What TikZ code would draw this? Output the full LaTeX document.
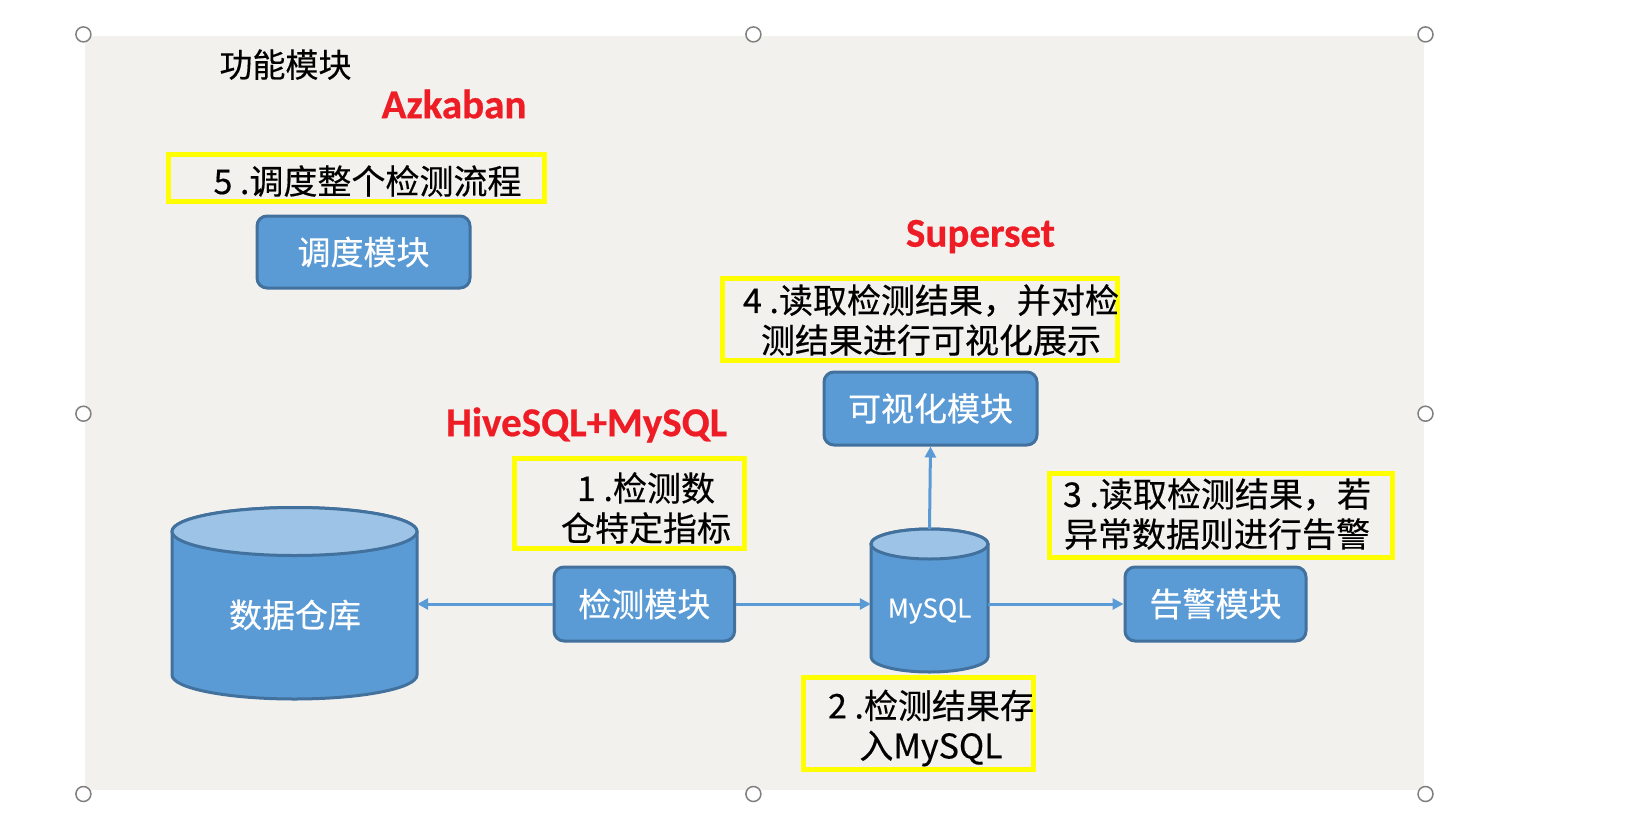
\documentclass[tikz,border=0pt]{standalone}
\usepackage{fontspec}
\newfontfamily\cjk[FakeBold=0.35]{Noto Sans CJK SC}
\newfontfamily\carl[FakeBold=0.6]{Carlito}
\usetikzlibrary{arrows.meta}
\definecolor{bfill}{HTML}{5B9BD5}
\definecolor{bline}{HTML}{41719C}
\definecolor{btop}{HTML}{9DC3E6}
\definecolor{ylw}{HTML}{FFFF00}
\definecolor{redt}{HTML}{EE1C25}
\definecolor{paper}{HTML}{F3F1EE}
\definecolor{hgray}{HTML}{808080}
\begin{document}
\begin{tikzpicture}[x=1pt,y=1pt,
  module/.style={draw=bline, line width=3pt, fill=bfill, rounded corners=10pt, text=white, inner sep=0pt, font=\cjk\fontsize{33}{38}\selectfont},
  note/.style={draw=ylw, line width=5pt, inner sep=0pt},
  notetext/.style={align=center, inner sep=0pt, text=black, font=\cjk\fontsize{34}{40}\selectfont},
  tech/.style={text=redt, inner sep=0pt, font=\carl\bfseries\fontsize{41}{44}\selectfont},
  cyl/.style={draw=bline, line width=3pt},
  hold/.style={inner sep=0pt, draw=none},
  conn/.style={draw=bfill, line width=3pt, -{Triangle[length=11pt,width=11pt]}},
  handle/.style={draw=hgray, line width=1.5pt, fill=white}]
\useasboundingbox (0,0) rectangle (1634,-827);
\fill[paper] (85,-36) rectangle (1424,-790);
% selection handles
\foreach \hx/\hy in {83.4/34.4, 753.4/34.4, 1425.5/34.4, 83.4/413.7, 1425.5/413.7, 83.4/794, 753.4/794, 1425.5/794}
  \draw[handle] (\hx,-\hy) circle (7.5);
% title
\node[inner sep=0pt, font=\cjk\fontsize{33}{38}\selectfont] (title) at (285.5,-64.6) {功能模块};
% tech labels
\node[tech] (az) at (454,-104) {Azkaban};
\node[tech] (ss) at (980.5,-236.5) {Superset};
\node[tech] (hv) at (586.6,-425) {HiveSQL+MySQL};
% yellow notes
\node[note, minimum width=376pt, minimum height=47pt] (n5) at (356.3,-178) {};
\node[notetext] (t5) at (367.5,-181) {5 .调度整个检测流程};
\node[note, minimum width=395pt, minimum height=81.6pt] (n4) at (920,-319.3) {};
\node[notetext] (t4) at (931,-320) {4 .读取检测结果，并对检\\测结果进行可视化展示};
\node[note, minimum width=230.4pt, minimum height=90pt] (n1) at (629.3,-503.5) {};
\node[notetext] (t1) at (646,-508) {1 .检测数\\仓特定指标};
\node[note, minimum width=343pt, minimum height=83.5pt] (n3) at (1221,-515.25) {};
\node[notetext] (t3) at (1217,-514) {3 .读取检测结果，若\\异常数据则进行告警};
\node[note, minimum width=230pt, minimum height=92pt] (n2) at (918.5,-723.5) {};
\node[notetext] (t2) at (931,-728) {2 .检测结果存\\入MySQL};
% modules
\node[module, minimum width=213pt, minimum height=72pt] (dd) at (363.5,-252) {调度模块};
\node[module, minimum width=213pt, minimum height=73pt] (ks) at (930.5,-408.5) {可视化模块};
\node[module, minimum width=180.6pt, minimum height=74pt] (jc) at (644.3,-604) {检测模块};
\node[module, minimum width=181pt, minimum height=74pt] (gj) at (1215.5,-604) {告警模块};
% data warehouse cylinder
\draw[cyl, fill=bfill] (172,-531.5) -- (172,-675) arc[start angle=180, end angle=360, x radius=122.5, y radius=24] -- (417,-531.5) arc[start angle=0, end angle=180, x radius=122.5, y radius=24] -- cycle;
\draw[cyl, fill=btop] (294.5,-531.5) ellipse [x radius=122.5, y radius=24];
\node[hold, minimum width=245pt, minimum height=191.5pt] (dw) at (294.5,-604) {};
\node[inner sep=0pt, text=white, font=\cjk\fontsize{33}{38}\selectfont] (dwt) at (295,-615) {数据仓库};
% MySQL cylinder
\draw[cyl, fill=bfill] (871,-544) -- (871,-657) arc[start angle=180, end angle=360, x radius=58.5, y radius=15] -- (988,-544) arc[start angle=0, end angle=180, x radius=58.5, y radius=15] -- cycle;
\draw[cyl, fill=btop] (929.5,-544) ellipse [x radius=58.5, y radius=15];
\node[hold, minimum width=117pt, minimum height=143pt] (my) at (929.5,-600.5) {};
\node[inner sep=0pt, text=white, font=\cjk\fontsize{26}{30}\selectfont] (myt) at (929.5,-611) {MySQL};
% connectors
\draw[conn] (jc.west) -- (jc.west -| dw.east);
\draw[conn] (jc.east) -- (jc.east -| my.west);
\draw[conn] (jc.east -| my.east) -- (gj.west);
\draw[conn] (my.north) -- (ks.south);
\end{tikzpicture}
\end{document}
